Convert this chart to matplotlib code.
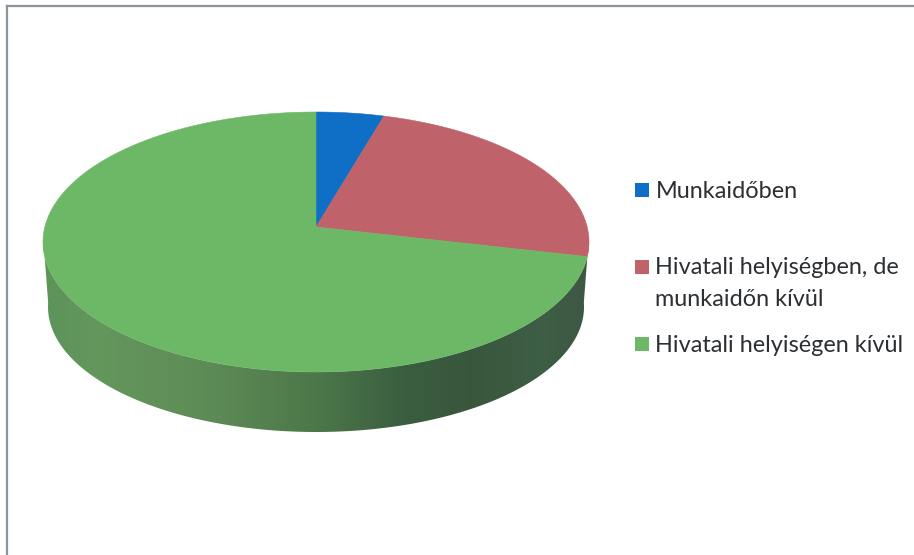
import numpy as np
import matplotlib
matplotlib.use('Agg')
from matplotlib import pyplot as plt
from matplotlib.patches import Polygon, Rectangle

labels = ['Munkaidőben', 'Hivatali helyiségben, de\nmunkaidőn kívül', 'Hivatali helyiségen kívül']
shares = [4.0, 22.8, 73.2]
colors = ['#0f6fc6', '#c0626a', '#6cb866']

W, H = 914, 555
fig = plt.figure(figsize=(W / 100, H / 100), dpi=100)
ax = fig.add_axes([0, 0, 1, 1])
ax.set_xlim(0, W)
ax.set_ylim(H, 0)
ax.axis('off')

# frame of the chart area
ax.plot([7, 7], [H, 6], color='#8d959c', lw=1.6)
ax.plot([7, W], [6, 6], color='#8d959c', lw=1.6)

# pie geometry in pixels, tilted by hand (apex sits above ellipse centre)
cx, cy, rx, ry = 316, 242, 273, 130
apex = (316, 227)
low_cy, low_rx, low_ry = 307, 268, 125


def rim(t, cy=cy, rx=rx, ry=ry):
    # t is degrees clockwise from the top
    t = np.radians(t)
    return cx + rx * np.sin(t), cy - ry * np.cos(t)


# side wall, front half of the ellipse, shaded left to right
tt = np.linspace(88, 272, 200)
xs, ys = rim(tt)
xb, yb = rim(tt, low_cy, low_rx, low_ry)
wall = np.column_stack([np.r_[xs, xb[::-1]], np.r_[ys, yb[::-1]]])
wall_patch = Polygon(wall, closed=True, fc='none', ec='none')
ax.add_patch(wall_patch)
stops = [43, 100, 200, 316, 400, 470, 540, 589]
shade = [(0.36, 0.58, 0.35), (0.39, 0.59, 0.36), (0.37, 0.55, 0.34), (0.30, 0.47, 0.29),
         (0.23, 0.37, 0.25), (0.22, 0.34, 0.24), (0.24, 0.37, 0.27), (0.24, 0.34, 0.27)]
col = np.arange(43, 590)
grad = np.stack([np.interp(col, stops, [s[i] for s in shade]) for i in range(3)], axis=-1)[None, :, :]
im = ax.imshow(grad, extent=[43, 590, 440, 200], aspect='auto', zorder=1)
im.set_clip_path(wall_patch)
ax.set_xlim(0, W)
ax.set_ylim(H, 0)

# top face
edges = np.r_[0, np.cumsum(shares)] * 3.6
for i in range(len(shares)):
    tt = np.linspace(edges[i], edges[i + 1], 200)
    xs, ys = rim(tt)
    pts = np.column_stack([np.r_[apex[0], xs], np.r_[apex[1], ys]])
    ax.add_patch(Polygon(pts, closed=True, fc=colors[i], ec=colors[i], lw=0.4, zorder=2))

# legend
font = ['Lato', 'DejaVu Sans']
leg_y = [190, 267, 344]
for i in range(len(labels)):
    ax.add_patch(Rectangle((635, leg_y[i] - 7), 14, 14, fc=colors[i], ec='none', zorder=3))
lines = labels[1].split('\n')
ax.text(656, 192, labels[0], fontsize=16.9, family=font, color='#2c2f33', va='center')
ax.text(655, 268, lines[0], fontsize=16.9, family=font, color='#2c2f33', va='center')
ax.text(655, 299, lines[1], fontsize=16.9, family=font, color='#2c2f33', va='center')
ax.text(655, 345, labels[2], fontsize=16.9, family=font, color='#2c2f33', va='center')

fig.savefig('out.png', dpi=100)
